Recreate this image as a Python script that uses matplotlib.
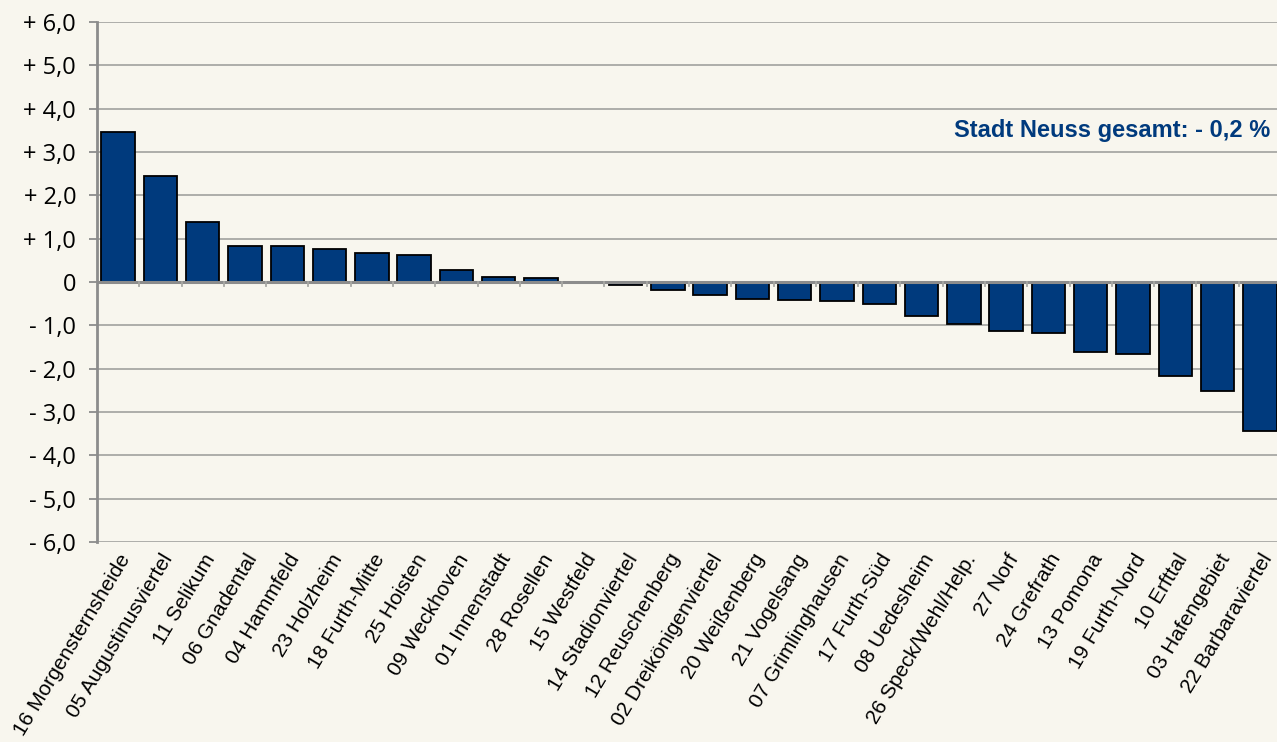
import numpy as np
import matplotlib.pyplot as plt

# Stadtteile und Veränderung in %
stadtteile = ['16 Morgensternsheide', '05 Augustinusviertel', '11 Selikum', '06 Gnadental',
              '04 Hammfeld', '23 Holzheim', '18 Furth-Mitte', '25 Hoisten', '09 Weckhoven',
              '01 Innenstadt', '28 Rosellen', '15 Westfeld', '14 Stadionviertel',
              '12 Reuschenberg', '02 Dreikönigenviertel', '20 Weißenberg', '21 Vogelsang',
              '07 Grimlinghausen', '17 Furth-Süd', '08 Uedesheim', '26 Speck/Wehl/Help.',
              '27 Norf', '24 Grefrath', '13 Pomona', '19 Furth-Nord', '10 Erfttal',
              '03 Hafengebiet', '22 Barbaraviertel']
werte = [3.46, 2.45, 1.39, 0.83, 0.83, 0.77, 0.68, 0.62, 0.27, 0.12, 0.10, 0.0, -0.08,
         -0.18, -0.31, -0.39, -0.42, -0.44, -0.50, -0.78, -0.97, -1.12, -1.18, -1.62,
         -1.66, -2.18, -2.51, -3.44]
yticks = [6, 5, 4, 3, 2, 1, 0, -1, -2, -3, -4, -5, -6]
gesamt_text = 'Stadt Neuss gesamt: - 0,2 %'

bg = '#f8f6ee'
navy = '#003a7d'
grey = '#8c8c8c'

def fmt(v):
    if v == 0:
        return '0'
    s = '+ ' if v > 0 else '- '
    return s + ('%.1f' % abs(v)).replace('.', ',')

fig = plt.figure(figsize=(12.77, 7.42), dpi=100, facecolor=bg)
ax = fig.add_axes([97 / 1277, 1 - 542 / 742, (1281 - 97) / 1277, (542 - 22) / 742])
ax.set_facecolor(bg)

x = np.arange(len(werte))
ax.bar(x, werte, width=0.79, color=navy, edgecolor='black', linewidth=1.3, zorder=3)

ax.set_xlim(-0.5, len(werte) - 0.5)
ax.set_ylim(-6, 6)
ax.set_yticks(yticks)
ax.set_yticklabels([fmt(v) for v in yticks], fontsize=17, family='Open Sans')
ax.yaxis.grid(True, color='#a8a8a4', linewidth=1.3, zorder=0)
ax.tick_params(axis='y', length=6, width=1.3, color=grey, pad=9)

# Kategorieachse schneidet bei 0
ax.axhline(0, color=grey, linewidth=2.2, zorder=4)
for b in np.arange(0.5, len(werte) - 0.5, 1):
    ax.plot([b, b], [0, -0.1], color='#a8a8a4', linewidth=1.3, zorder=4)

ax.set_xticks(x)
ax.set_xticklabels(stadtteile, rotation=59, ha='right', va='top', rotation_mode='anchor',
                   fontsize=15, family='Liberation Sans')
ax.tick_params(axis='x', length=0, pad=6)

for s in ['top', 'right', 'bottom']:
    ax.spines[s].set_visible(False)
ax.spines['left'].set_color(grey)
ax.spines['left'].set_linewidth(2)

fig.text(1270 / 1277, 1 - 131 / 742, gesamt_text, ha='right', va='center', color=navy,
         fontsize=17, fontweight='bold', family='Liberation Sans')

fig.savefig('out.png', dpi=100, facecolor=bg)
